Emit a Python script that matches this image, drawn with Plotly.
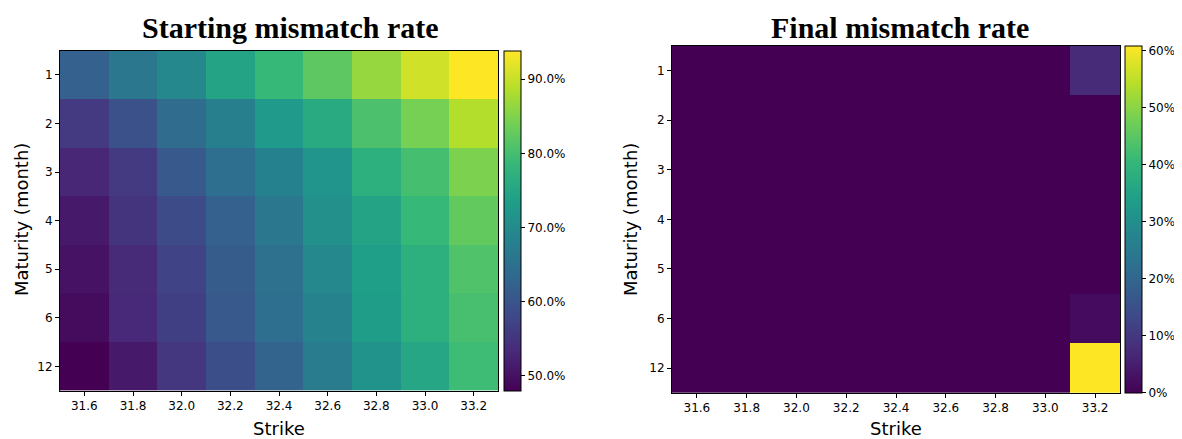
import plotly.graph_objects as go

strikes = [31.6, 31.8, 32.0, 32.2, 32.4, 32.6, 32.8, 33.0, 33.2]
maturities = ["1", "2", "3", "4", "5", "6", "12"]

# Starting mismatch rate (%), rows = maturities, cols = strikes
start_rate = [
    [62.2, 66.3, 69.5, 74.6, 78.7, 82.2, 86.5, 90.6, 93.85],
    [55.8, 59.5, 64.0, 67.7, 72.8, 76.0, 80.6, 84.2, 88.6],
    [53.0, 55.8, 60.8, 64.5, 68.2, 71.8, 76.9, 80.1, 84.7],
    [51.2, 54.9, 58.5, 62.2, 66.3, 70.9, 74.6, 78.7, 82.6],
    [50.3, 53.5, 57.2, 61.3, 65.0, 69.5, 73.7, 76.9, 81.0],
    [49.4, 53.3, 56.7, 60.8, 64.5, 68.6, 73.2, 76.9, 80.3],
    [48.0, 51.2, 55.3, 59.0, 62.7, 67.3, 71.4, 75.1, 79.4],
]

# Final mismatch rate (%)
final_rate = [
    [0, 0, 0, 0, 0, 0, 0, 0, 7.3],
    [0, 0, 0, 0, 0, 0, 0, 0, 0],
    [0, 0, 0, 0, 0, 0, 0, 0, 0],
    [0, 0, 0, 0, 0, 0, 0, 0, 0],
    [0, 0, 0, 0, 0, 0, 0, 0, 0],
    [0, 0, 0, 0, 0, 0, 0, 0, 1.8],
    [0, 0, 0, 0, 0, 0, 0, 0, 60.8],
]

left_ticks = [50, 60, 70, 80, 90]
right_ticks = [0, 10, 20, 30, 40, 50, 60]

# page body has an 8px margin: figure placed at (8, 8) in the window
OFF = 8
W, H = 1182 - OFF, 439 - OFF
def px(x):
    return (x - OFF) / W
def py(y):
    return 1 - (y - OFF) / H

tickfont = dict(family="DejaVu Sans", size=12, color="black")
labelfont = dict(family="DejaVu Sans", size=18, color="black")
titlefont = dict(family="Liberation Serif", size=30, color="black")

ridx = list(range(len(maturities)))

fig = go.Figure()
fig.add_trace(go.Heatmap(
    x=strikes, y=ridx, z=start_rate, colorscale="Viridis",
    zmin=min(min(r) for r in start_rate), zmax=max(max(r) for r in start_rate),
    xaxis="x", yaxis="y",
    colorbar=dict(
        x=px(504), xanchor="left", xpad=0, ypad=0,
        y=py((50.5 + 390.7) / 2), yanchor="middle",
        lenmode="pixels", len=340, thickness=17,
        outlinecolor="black", outlinewidth=1,
        tickvals=left_ticks, ticktext=[f"{v:.1f}%" for v in left_ticks],
        ticks="outside", ticklen=4, tickcolor="black", tickfont=tickfont,
    ),
))
fig.add_trace(go.Heatmap(
    x=strikes, y=ridx, z=final_rate, colorscale="Viridis",
    zmin=0, zmax=max(max(r) for r in final_rate),
    xaxis="x2", yaxis="y2",
    colorbar=dict(
        x=px(1125), xanchor="left", xpad=0, ypad=0,
        y=py((45.7 + 393) / 2), yanchor="middle",
        lenmode="pixels", len=347, thickness=17,
        outlinecolor="black", outlinewidth=1,
        tickvals=right_ticks, ticktext=[f"{v}%" for v in right_ticks],
        ticks="outside", ticklen=4, tickcolor="black", tickfont=tickfont,
    ),
))

axcommon = dict(showline=True, linecolor="black", linewidth=1, mirror=True,
                ticks="outside", ticklen=4, tickcolor="black", tickfont=tickfont,
                showgrid=False, zeroline=False)

fig.update_layout(
    width=W, height=H, margin=dict(l=0, r=0, t=0, b=0),
    paper_bgcolor="white", plot_bgcolor="white",
    xaxis=dict(domain=[px(60), px(498)], anchor="y", range=[31.5, 33.3],
               tickvals=strikes, ticktext=[f"{s:.1f}" for s in strikes], **axcommon),
    yaxis=dict(domain=[py(390.7), py(50.5)], anchor="x", range=[6.5, -0.5],
               tickvals=ridx, ticktext=maturities, **axcommon),
    xaxis2=dict(domain=[px(672), px(1120)], anchor="y2", range=[31.5, 33.3],
                tickvals=strikes, ticktext=[f"{s:.1f}" for s in strikes], **axcommon),
    yaxis2=dict(domain=[py(393), py(45.7)], anchor="x2", range=[6.5, -0.5],
                tickvals=ridx, ticktext=maturities, **axcommon),
    annotations=[
        dict(text="<b>Starting mismatch rate</b>", x=px(290), y=py(46), xref="paper", yref="paper",
             xanchor="center", yanchor="bottom", showarrow=False, font=titlefont),
        dict(text="<b>Final mismatch rate</b>", x=px(900), y=py(46), xref="paper", yref="paper",
             xanchor="center", yanchor="bottom", showarrow=False, font=titlefont),
        dict(text="Strike", x=px(279), y=py(441), xref="paper", yref="paper",
             xanchor="center", yanchor="bottom", showarrow=False, font=labelfont),
        dict(text="Strike", x=px(896), y=py(441), xref="paper", yref="paper",
             xanchor="center", yanchor="bottom", showarrow=False, font=labelfont),
        dict(text="Maturity (month)", x=px(21), y=py(220), xref="paper", yref="paper",
             xanchor="center", yanchor="middle", showarrow=False, font=labelfont, textangle=-90),
        dict(text="Maturity (month)", x=px(630), y=py(220), xref="paper", yref="paper",
             xanchor="center", yanchor="middle", showarrow=False, font=labelfont, textangle=-90),
    ],
)

fig.write_html("out.html")
